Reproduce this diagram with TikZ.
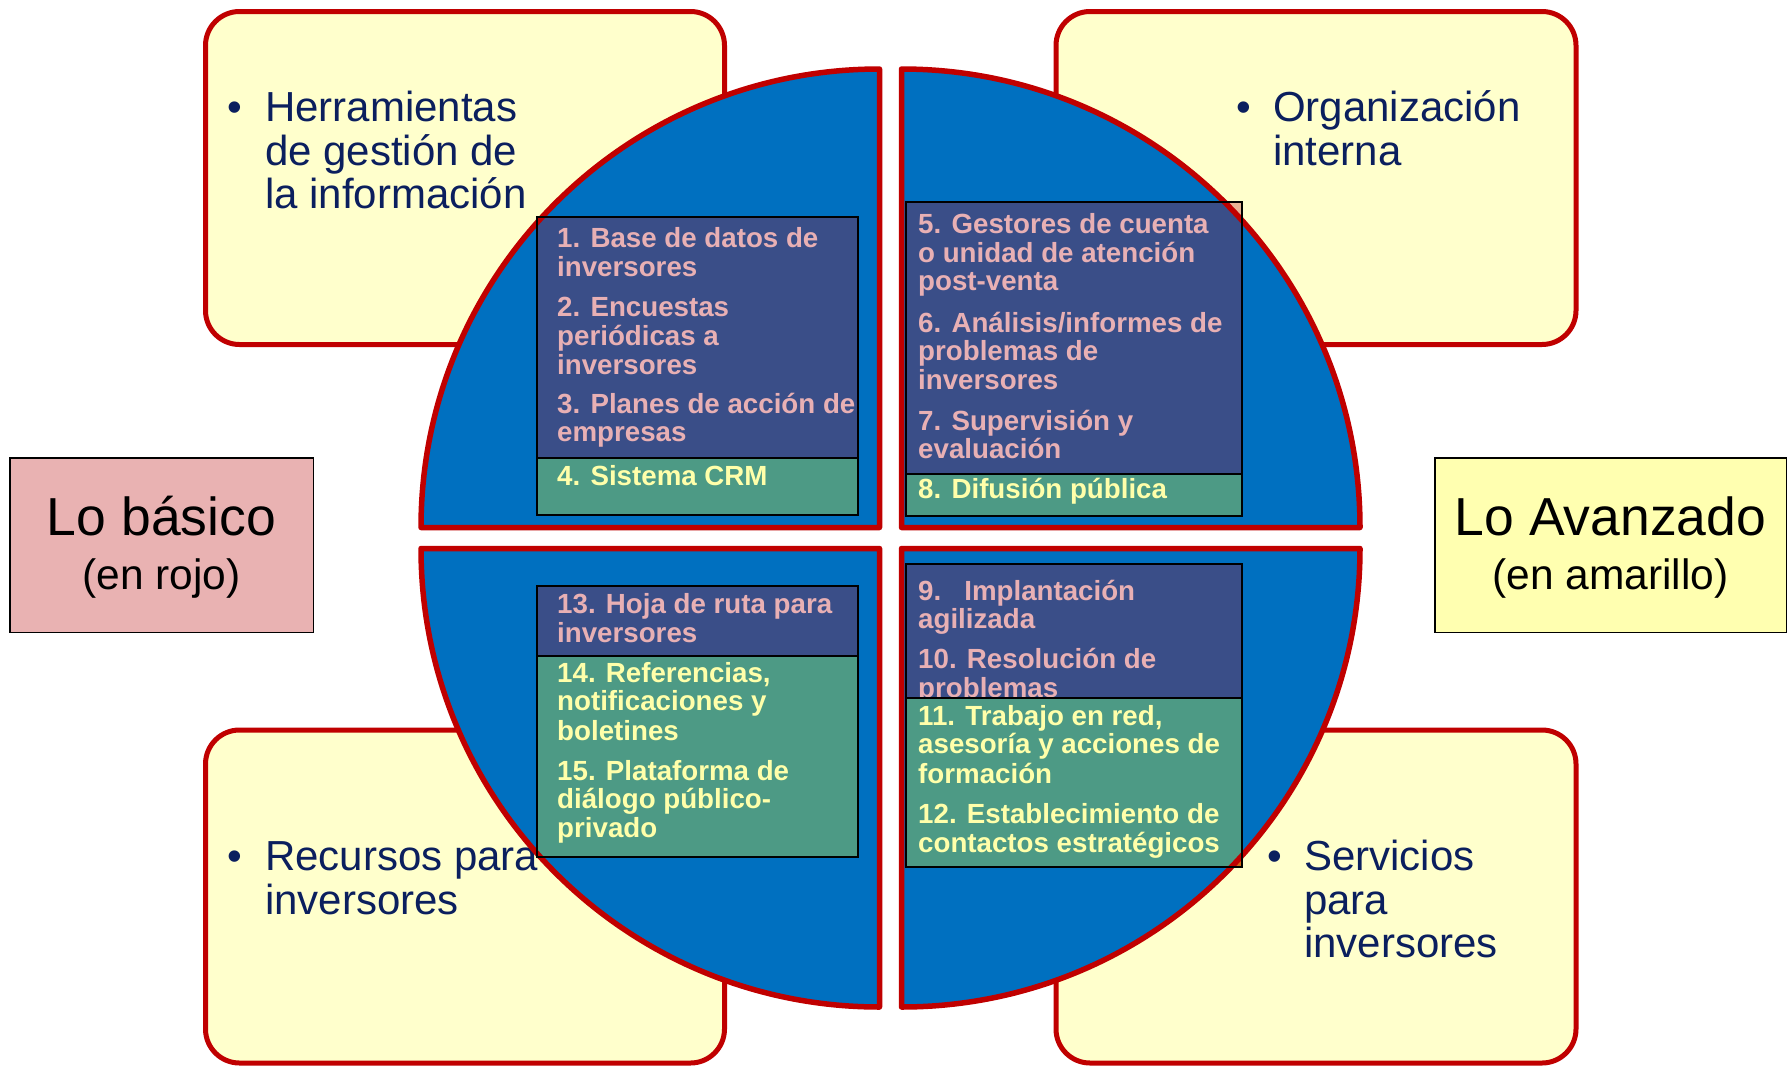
\documentclass[tikz,border=0pt]{standalone}
\usepackage{fontspec}
\setmainfont{Liberation Sans}

\definecolor{quadblue}{RGB}{0,112,192}
\definecolor{rimred}{RGB}{192,0,0}
\definecolor{cream}{RGB}{255,255,204}
\definecolor{navybox}{RGB}{58,78,136}
\definecolor{greenbox}{RGB}{77,154,133}
\definecolor{pinktext}{RGB}{232,176,180}
\definecolor{yellowtext}{RGB}{255,255,170}
\definecolor{labelnavy}{RGB}{11,31,94}
\definecolor{basicfill}{RGB}{233,178,178}
\definecolor{advfill}{RGB}{255,255,176}
\definecolor{spillnavy}{RGB}{233,180,150}
\definecolor{spillgreen}{RGB}{210,100,20}

\begin{document}
\begin{tikzpicture}[x=1pt,y=-1pt,
  panel/.style={fill=cream, draw=rimred, line width=5pt, rounded corners=34pt},
  topic/.style={anchor=base west, inner sep=0pt, text=labelnavy,
    font=\fontsize{42}{44}\selectfont},
  dot/.style={anchor=base, inner sep=0pt, text=labelnavy,
    font=\fontsize{42}{44}\selectfont},
  pinkline/.style={anchor=base west, inner sep=0pt, text=pinktext,
    font=\bfseries\fontsize{27.7}{29}\selectfont},
  yellowline/.style={pinkline, text=yellowtext},
  legendframe/.style={draw=black, line width=1.5pt},
  legendtitle/.style={anchor=base, inner sep=0pt, text=black,
    font=\fontsize{53.5}{56}\selectfont},
  legendsub/.style={anchor=base, inner sep=0pt, text=black,
    font=\fontsize{42.5}{44}\selectfont},
  boxrule/.style={draw=black, line width=1.8pt},
  rim/.style={draw=rimred, line width=5.5pt, line join=round},
  quadTL/.style={insert path={(879.5,527.5) -- ++(-458.5,0)
    arc[start angle=180, end angle=270, radius=458.5] -- cycle}},
  quadTR/.style={insert path={(901.5,527.5) -- ++(0,-458.5)
    arc[start angle=270, end angle=360, radius=458.5] -- cycle}},
  quadBL/.style={insert path={(879.5,548.5) -- ++(-458.5,0)
    arc[start angle=180, end angle=90, radius=458.5] -- cycle}},
  quadBR/.style={insert path={(901.5,548.5) -- ++(458.5,0)
    arc[start angle=0, end angle=90, radius=458.5] -- cycle}},
]
\useasboundingbox (0,0) rectangle (1791,1066);
\fill[white] (0,0) rectangle (1791,1066);

% ---- four topic panels ----
\draw[panel] (205.5,11.5) rectangle (724.5,344.5);
\draw[panel] (1056,11.5) rectangle (1576,344.5);
\draw[panel] (205.5,730) rectangle (724.5,1063);
\draw[panel] (1056,730) rectangle (1576,1063);

\node[dot] (b1) at (235,121) {•};
\node[topic] (h1) at (265,121) {Herramientas};
\node[topic] (h2) at (265,165) {de gestión de};
\node[topic] (h3) at (265,208) {la información};

\node[dot] (b2) at (1244,121) {•};
\node[topic] (o1) at (1273,121) {Organización};
\node[topic] (o2) at (1273,165) {interna};

\node[dot] (b3) at (235,870) {•};
\node[topic] (r1) at (265,870) {Recursos para};
\node[topic] (r2) at (265,914) {inversores};

\node[dot] (b4) at (1275,870) {•};
\node[topic] (s1) at (1304,870) {Servicios};
\node[topic] (s2) at (1304,914) {para};
\node[topic] (s3) at (1304,957) {inversores};

% ---- legend boxes ----
\draw[legendframe, fill=basicfill] (9.75,457.75) rectangle (313.25,632.25);
\node[legendtitle] (basictitle) at (161.5,535) {Lo básico};
\node[legendsub] (basicsub) at (161.5,589) {(en rojo)};
\draw[legendframe, fill=advfill] (1434.75,457.75) rectangle (1786.25,632.25);
\node[legendtitle] (advtitle) at (1610.5,535) {Lo Avanzado};
\node[legendsub] (advsub) at (1610.5,589) {(en amarillo)};

% ---- corners of the lists that stick out of the disc ----
\fill[spillnavy] (906,202) rectangle (1242,474);
\fill[spillgreen] (906,698) rectangle (1242,867);
\fill[spillgreen] (537,656) rectangle (858,857);

% ---- disc quadrants ----
\fill[quadblue, quadTL];
\fill[quadblue, quadTR];
\fill[quadblue, quadBL];
\fill[quadblue, quadBR];

% ---- list backgrounds inside the disc ----
\begin{scope}
  \clip[quadTL];
  \fill[navybox] (537,217) rectangle (858,458);
  \fill[greenbox] (537,458) rectangle (858,515);
\end{scope}
\begin{scope}
  \clip[quadTR];
  \fill[navybox] (906,202) rectangle (1242,474);
  \fill[greenbox] (906,474) rectangle (1242,516);
\end{scope}
\begin{scope}
  \clip[quadBL];
  \fill[navybox] (537,586) rectangle (858,656);
  \fill[greenbox] (537,656) rectangle (858,857);
\end{scope}
\begin{scope}
  \clip[quadBR];
  \fill[navybox] (906,564) rectangle (1242,698);
\end{scope}
\foreach \lineY/\lineText [count=\k] in {
    600/{9.\hspace{23pt}Implantación}, 628/agilizada,
    668/{10. Resolución de}, 697/problemas}
  \node[pinkline] (br\k) at (918,\lineY) {\lineText};
\begin{scope}
  \clip[quadBR];
  \fill[greenbox] (906,698) rectangle (1242,867);
\end{scope}

% ---- red rims ----
\draw[rim, quadTL];
\draw[rim, quadTR];
\draw[rim, quadBL];
\draw[rim, quadBR];

% ---- list frames ----
\draw[boxrule] (537,217) rectangle (858,515) (537,458) -- (858,458);
\draw[boxrule] (906,202) rectangle (1242,516) (906,474) -- (1242,474);
\draw[boxrule] (537,586) rectangle (858,857) (537,656) -- (858,656);
\draw[boxrule] (906,564) rectangle (1242,867) (906,698) -- (1242,698);

% ---- list texts ----
\foreach \lineY/\lineText [count=\k] in {
    247/{1. Base de datos de}, 276/inversores,
    316/{2. Encuestas}, 345/{periódicas a}, 374/inversores,
    413/{3. Planes de acción de}, 441/empresas}
  \node[pinkline] (tl\k) at (557,\lineY) {\lineText};
\node[yellowline] (tl8) at (557,485) {4. Sistema CRM};

\foreach \lineY/\lineText [count=\k] in {
    233/{5. Gestores de cuenta}, 262/{o unidad de atención}, 290/post-venta,
    332/{6. Análisis/informes de}, 360/{problemas de}, 389/inversores,
    430/{7. Supervisión y}, 458/evaluación}
  \node[pinkline] (tr\k) at (918,\lineY) {\lineText};
\node[yellowline] (tr9) at (918,498) {8. Difusión pública};

\node[pinkline] (bl1) at (557,613) {13. Hoja de ruta para};
\node[pinkline] (bl2) at (557,642) {inversores};
\foreach \lineY/\lineText [count=\k from 3] in {
    682/{14. Referencias,}, 710/{notificaciones y}, 740/boletines,
    780/{15. Plataforma de}, 808/{diálogo público-}, 837/privado}
  \node[yellowline] (bl\k) at (557,\lineY) {\lineText};

\foreach \lineY/\lineText [count=\k from 5] in {
    725/{11. Trabajo en red,}, 753/{asesoría y acciones de}, 783/formación,
    823/{12. Establecimiento de}, 852/{contactos estratégicos}}
  \node[yellowline] (br\k) at (918,\lineY) {\lineText};
\end{tikzpicture}
\end{document}
